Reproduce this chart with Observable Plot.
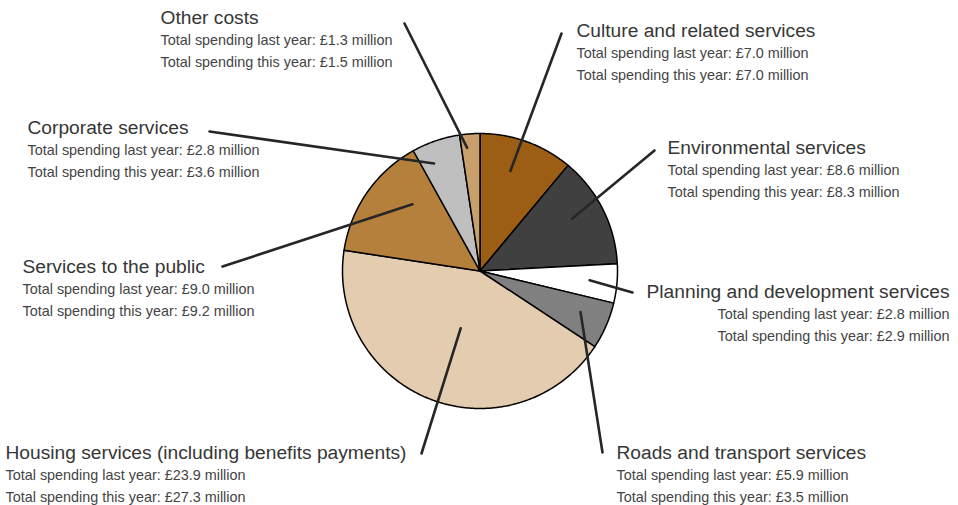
<!DOCTYPE html>
<html>
<head>
<meta charset="utf-8">
<script src="https://cdn.jsdelivr.net/npm/d3@7"></script>
<script src="https://cdn.jsdelivr.net/npm/@observablehq/plot@0.6"></script>
<style>
  html, body { margin: 0; padding: 0; background: #fff; }
  #chart svg { display: block; }
</style>
</head>
<body>
<div id="chart"></div>
<script>
// ---- data ----
const categories = [
  "Culture and related services",
  "Environmental services",
  "Planning and development services",
  "Roads and transport services",
  "Housing services (including benefits payments)",
  "Services to the public",
  "Corporate services",
  "Other costs"
];
const lastYear = [7.0, 8.6, 2.8, 5.9, 23.9, 9.0, 2.8, 1.3];
const thisYear = [7.0, 8.3, 2.9, 3.5, 27.3, 9.2, 3.6, 1.5];
const colors = ["#9c5e14", "#404040", "#ffffff", "#808080", "#e3ccaf", "#b5803c", "#bfbfbf", "#c8a06c"];

// ---- layout (pixels) ----
const W = 958, H = 505;
const cx = 479.5, cy = 270.5, R = 137.5;
// label anchor [x, baseline y of title, text anchor], leader outer end [x,y], leader inner [angle offset deg, radius fraction]
const labelLayout = [
  {x: 576, y: 36,  anchor: "start", ox: 561, oy: 33,  da: -3,  f: 0.76},
  {x: 667, y: 153, anchor: "start", ox: 654, oy: 150, da: -3,  f: 0.77},
  {x: 949, y: 297, anchor: "end",   ox: 632, oy: 292, da: -0.4, f: 0.80},
  {x: 616, y: 458, anchor: "start", ox: 602, oy: 452, da: -1.2, f: 0.79},
  {x: 5,   y: 458, anchor: "start", ox: 421, oy: 453, da: -2.4, f: 0.44},
  {x: 22,  y: 272, anchor: "start", ox: 222, oy: 266, da: 9.8, f: 0.69},
  {x: 27,  y: 133, anchor: "start", ox: 209, oy: 131, da: -4.4, f: 0.85},
  {x: 160, y: 23,  anchor: "start", ox: 404, oy: 23,  da: -1.7, f: 0.90}
];

// pixel -> data units (radius = 1)
const toX = px => (px - cx) / R;
const toY = py => (cy - py) / R;

// slice geometry from values
const pie = d3.pie().sort(null).value(d => d)(thisYear);
const slicePts = [];
pie.forEach((s, i) => {
  const a0 = s.startAngle, a1 = s.endAngle;
  const n = Math.max(2, Math.ceil((a1 - a0) / (Math.PI / 360)));
  slicePts.push({k: i, x: 0, y: 0});
  for (let j = 0; j <= n; j++) {
    const a = a0 + (a1 - a0) * j / n;
    slicePts.push({k: i, x: Math.sin(a), y: Math.cos(a)});
  }
  slicePts.push({k: i, x: 0, y: 0});
});

// leader lines
const leaders = [];
pie.forEach((s, i) => {
  const L = labelLayout[i];
  const mid = (s.startAngle + s.endAngle) / 2 + L.da * Math.PI / 180;
  leaders.push({k: i, x: Math.sin(mid) * L.f, y: Math.cos(mid) * L.f});
  leaders.push({k: i, x: toX(L.ox), y: toY(L.oy)});
});

// labels
const titles = categories.map((c, i) => ({text: c, x: toX(labelLayout[i].x), y: toY(labelLayout[i].y), anchor: labelLayout[i].anchor}));
const details = [];
categories.forEach((c, i) => {
  const L = labelLayout[i];
  details.push({text: `Total spending last year: £${lastYear[i].toFixed(1)} million`, x: toX(L.x), y: toY(L.y + 21.5), anchor: L.anchor});
  details.push({text: `Total spending this year: £${thisYear[i].toFixed(1)} million`, x: toX(L.x), y: toY(L.y + 43), anchor: L.anchor});
});

const font = "'Liberation Sans', Arial, sans-serif";

const chart = Plot.plot({
  width: W,
  height: H,
  margin: 0,
  x: {domain: [toX(0), toX(W)], axis: null},
  y: {domain: [toY(H), toY(0)], axis: null},
  color: {domain: d3.range(categories.length), range: colors},
  style: {fontFamily: font, background: "#fff"},
  marks: [
    Plot.line(slicePts, {x: "x", y: "y", z: "k", fill: "k", stroke: "#000", strokeWidth: 1.5, strokeLinejoin: "round", curve: "linear"}),
    Plot.line(leaders, {x: "x", y: "y", z: "k", stroke: "#262626", strokeWidth: 2.6}),
    Plot.text(titles.filter(d => d.anchor === "start"), {x: "x", y: "y", text: "text", textAnchor: "start", lineAnchor: "bottom", fontSize: 19.2, fill: "#363636"}),
    Plot.text(titles.filter(d => d.anchor === "end"), {x: "x", y: "y", text: "text", textAnchor: "end", lineAnchor: "bottom", fontSize: 19.2, fill: "#363636"}),
    Plot.text(details.filter(d => d.anchor === "start"), {x: "x", y: "y", text: "text", textAnchor: "start", lineAnchor: "bottom", fontSize: 14.4, fill: "#444"}),
    Plot.text(details.filter(d => d.anchor === "end"), {x: "x", y: "y", text: "text", textAnchor: "end", lineAnchor: "bottom", fontSize: 14.4, fill: "#444"})
  ]
});
document.getElementById("chart").appendChild(chart);
</script>
</body>
</html>
